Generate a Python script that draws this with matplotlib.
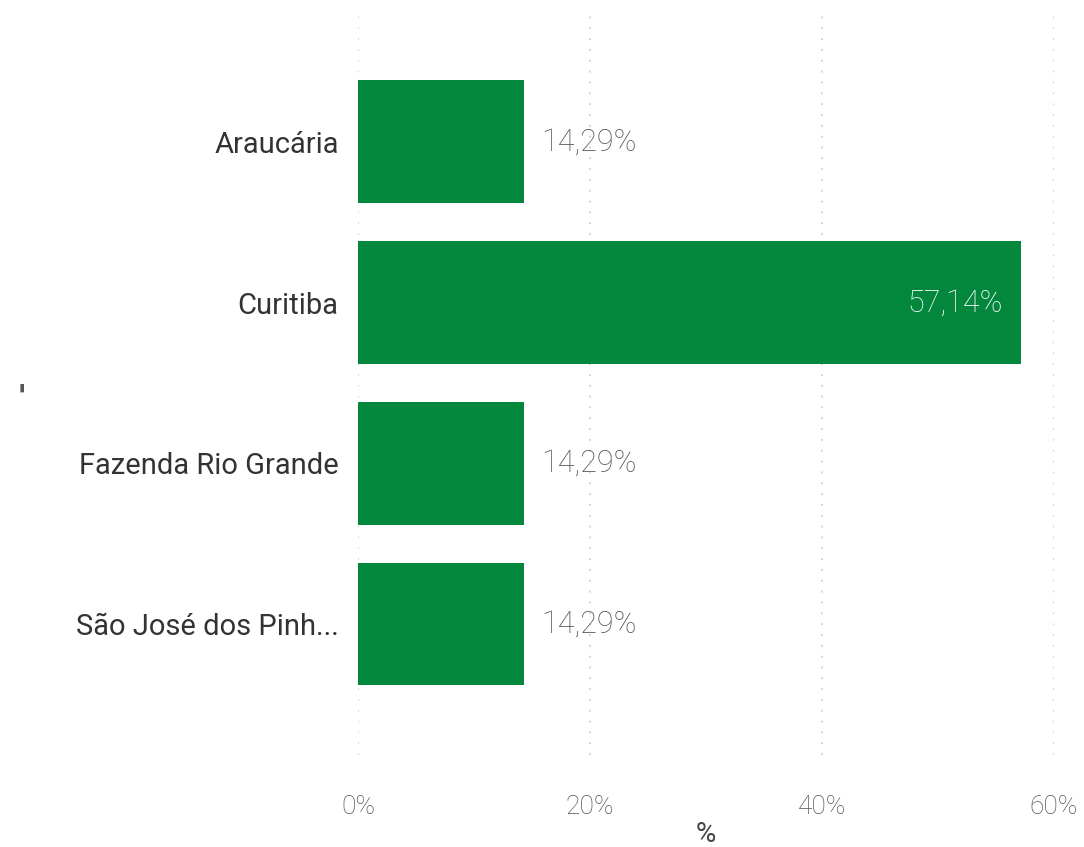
import matplotlib
matplotlib.use("Agg")
import matplotlib.pyplot as plt
from matplotlib.ticker import FixedLocator

categories = ["Araucária", "Curitiba", "Fazenda Rio Grande", "São José dos Pinh..."]
values = [14.29, 57.14, 14.29, 14.29]
value_labels = ["14,29%", "57,14%", "14,29%", "14,29%"]
xticks = [0, 20, 40, 60]
xtick_labels = ["0%", "20%", "40%", "60%"]

plt.rcParams['font.family'] = ['Roboto', 'DejaVu Sans']

W, H = 1084, 847
fig = plt.figure(figsize=(W / 100, H / 100), dpi=100)
left, right = 358 / W, 1054 / W
top, bottom = 1 - 15 / H, 1 - 755 / H
ax = fig.add_axes([left, bottom, right - left, top - bottom])

green = "#02873D"
ypos = list(range(len(categories)))
ax.barh(ypos, values, height=0.765, color=green, zorder=2)
ax.set_xlim(0, 60)
ax.set_ylim(3.815, -0.79)

for y, v, lab in zip(ypos, values, value_labels):
    if v > 40:
        ax.text(v - 1.55, y, lab, ha="right", va="center", color="white", fontsize=22, fontweight="light")
    else:
        ax.text(v + 1.55, y, lab, ha="left", va="center", color="#555555", fontsize=22, fontweight="light")

ax.set_yticks(ypos)
ax.set_yticklabels(categories, fontsize=21, color="#333333")
ax.xaxis.set_major_locator(FixedLocator(xticks))
ax.set_xticklabels(xtick_labels, fontsize=19, color="#555555", fontweight="light")
ax.tick_params(axis="both", length=0)
ax.tick_params(axis="y", pad=14)
ax.tick_params(axis="x", pad=29)

for x in xticks:
    ax.axvline(x, color="#cfcfcf", linestyle=(0, (1, 5)), linewidth=1.3, zorder=1)

for s in ax.spines.values():
    s.set_visible(False)

ax.set_xlabel("%", fontsize=20, color="#444444", labelpad=1)
fig.text(22 / W, 1 - 386 / H, "-", rotation=90, fontsize=22, fontweight="bold", color="#555555", ha="center", va="center")

fig.savefig("out.png", dpi=100, facecolor="white")
